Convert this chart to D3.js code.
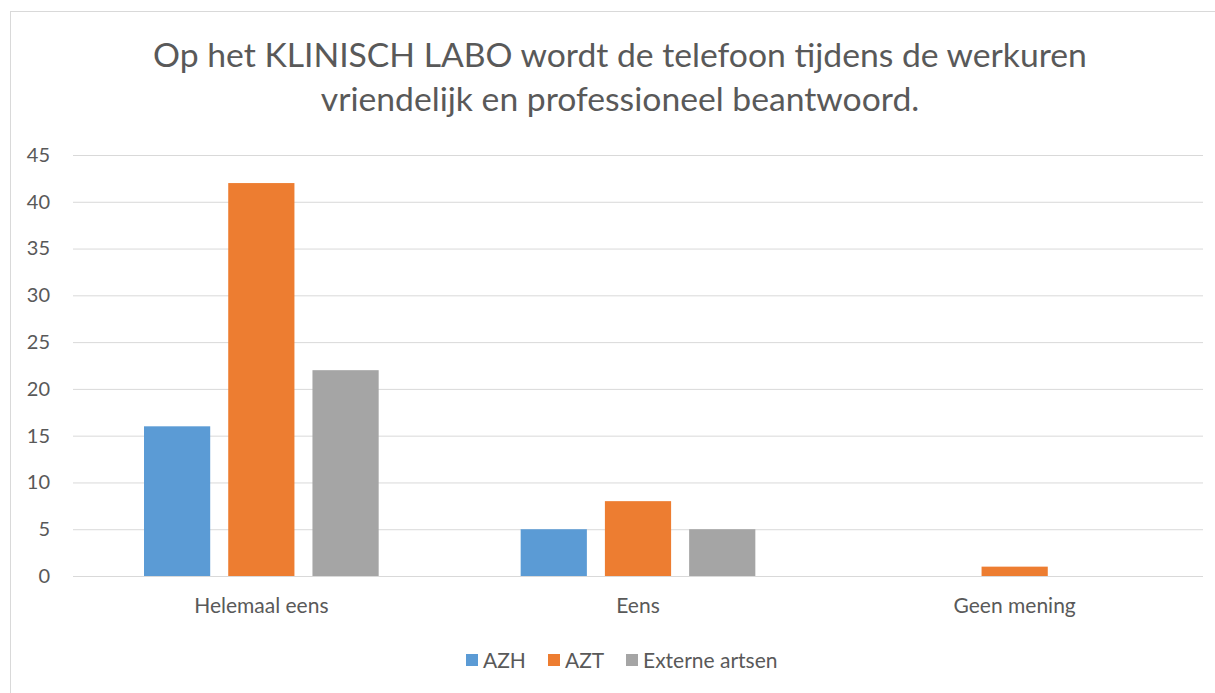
<!DOCTYPE html>
<html>
<head>
<meta charset="utf-8">
<script src="https://cdn.jsdelivr.net/npm/d3@7"></script>
<style>
  body { margin: 0; background: #fff; }
  text { font-family: Lato, "Open Sans", sans-serif; fill: #595959; }
</style>
</head>
<body>
<div id="chart"></div>
<script>
const categories = ["Helemaal eens", "Eens", "Geen mening"];
const seriesNames = ["AZH", "AZT", "Externe artsen"];
const azh = [16, 5, 0];
const azt = [42, 8, 1];
const externe = [22, 5, 0];
const yTicks = [0, 5, 10, 15, 20, 25, 30, 35, 40, 45];
const titleLines = ["Op het KLINISCH LABO wordt de telefoon tijdens de werkuren", "vriendelijk en professioneel beantwoord."];
const colors = ["#5b9bd5", "#ed7d31", "#a5a5a5"];

const W = 1215, H = 693;
const margin = {top: 155, right: 12, bottom: 117, left: 73};
const width = W - margin.left - margin.right;
const height = H - margin.top - margin.bottom;

const svg = d3.select("#chart").append("svg")
  .attr("width", W).attr("height", H);

svg.append("rect")
  .attr("x", 10.5).attr("y", 11.5)
  .attr("width", W).attr("height", H)
  .attr("fill", "none").attr("stroke", "#d9d9d9");

svg.selectAll(".title").data(titleLines).enter().append("text")
  .attr("x", 620).attr("y", (d, i) => 67 + i * 44)
  .attr("text-anchor", "middle")
  .style("font-size", "33.7px")
  .text(d => d);

const g = svg.append("g").attr("transform", "translate(" + margin.left + "," + margin.top + ")");

const x = d3.scaleBand().domain(categories).range([0, width]);
const x1 = d3.scaleBand().domain(seriesNames).range([71, x.bandwidth() - 71]).paddingInner(0.214);
const y = d3.scaleLinear().domain([0, 45]).range([height, 0]);

g.append("g")
  .call(d3.axisLeft(y).tickValues(yTicks).tickSize(-width).tickPadding(0))
  .call(a => a.select(".domain").remove())
  .call(a => a.selectAll("line").attr("stroke", "#d9d9d9"))
  .call(a => a.selectAll("text").attr("x", -23).attr("text-anchor", "end")
    .style("font-size", "20px").style("font-family", "Lato, sans-serif").attr("fill", "#595959"));

const data = categories.map((c, i) => ({cat: c, vals: [azh[i], azt[i], externe[i]]}));

g.selectAll(".grp").data(data).enter().append("g")
  .attr("transform", d => "translate(" + x(d.cat) + ",0)")
  .selectAll("rect").data(d => d.vals.map((v, j) => ({name: seriesNames[j], v: v, c: colors[j]})))
  .enter().append("rect")
  .attr("x", d => x1(d.name))
  .attr("width", x1.bandwidth())
  .attr("y", d => y(d.v))
  .attr("height", d => height - y(d.v))
  .attr("fill", d => d.c);

g.append("g")
  .attr("transform", "translate(0," + height + ")")
  .call(d3.axisBottom(x).tickSize(0).tickPadding(22))
  .call(a => a.select(".domain").remove())
  .call(a => a.selectAll("text").style("font-size", "21px").style("font-family", "Lato, sans-serif").attr("fill", "#595959"));

// legend
const legend = svg.append("g").attr("transform", "translate(466,661)");
const offsets = [0, 82, 160];
seriesNames.forEach((n, i) => {
  legend.append("rect").attr("x", offsets[i]).attr("y", -7).attr("width", 12).attr("height", 12).attr("fill", colors[i]);
  legend.append("text").attr("x", offsets[i] + 17).attr("y", 7).style("font-size", "21px").text(n);
});
</script>
</body>
</html>
